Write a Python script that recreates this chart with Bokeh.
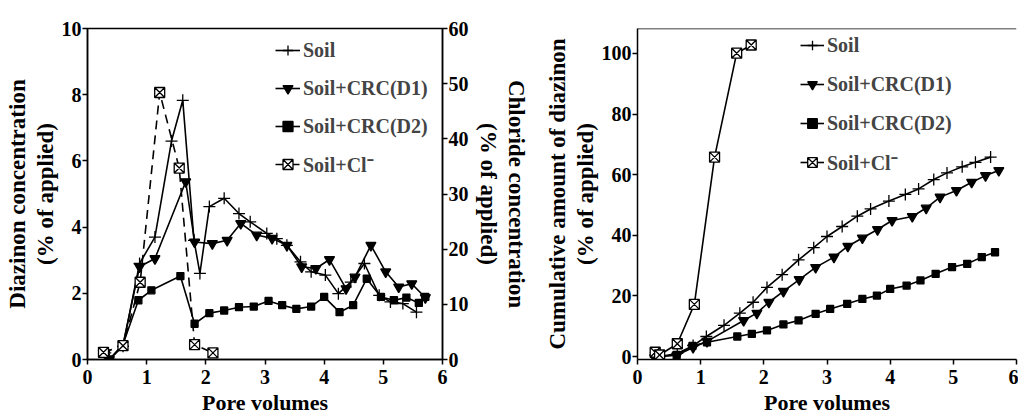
from bokeh.plotting import figure
from bokeh.models import Range1d, LinearAxis, Legend, LegendItem, Title, Span
from bokeh.layouts import row
from bokeh.embed import file_html
from bokeh.resources import INLINE

# ---------------- data: left panel (concentration) ----------------
soil_x = [0.30, 0.37, 0.60, 0.88, 1.14, 1.42, 1.61, 1.80, 1.90, 2.06, 2.31, 2.56, 2.75,
          3.03, 3.20, 3.37, 3.60, 3.78, 4.02, 4.24, 4.45, 4.68, 4.93, 5.12, 5.33, 5.56]
soil_y = [0.20, 0.00, 0.40, 2.90, 3.70, 6.60, 7.83, 3.60, 2.60, 4.62, 4.87, 4.41, 4.16,
          3.81, 3.65, 3.45, 2.95, 2.65, 2.55, 1.99, 2.34, 2.90, 1.94, 1.74, 1.69, 1.43]

d1_x = [0.30, 0.37, 0.60, 0.88, 1.14, 1.66, 1.81, 2.11, 2.36, 2.59, 2.86, 3.12, 3.37,
        3.62, 3.86, 4.09, 4.37, 4.52, 4.79, 5.04, 5.26, 5.48, 5.71]
d1_y = [0.20, 0.00, 0.45, 2.80, 3.05, 5.37, 3.55, 3.50, 3.60, 4.11, 3.76, 3.66, 3.45,
        2.80, 2.75, 3.02, 2.14, 2.49, 3.45, 2.65, 2.19, 2.29, 1.87]

d2_x = [0.30, 0.37, 0.60, 0.86, 1.08, 1.57, 1.81, 2.06, 2.31, 2.56, 2.81, 3.06, 3.29,
        3.53, 3.78, 4.00, 4.26, 4.49, 4.72, 4.96, 5.18, 5.39, 5.60, 5.71]
d2_y = [0.20, 0.00, 0.45, 1.79, 2.09, 2.52, 1.08, 1.40, 1.48, 1.58, 1.60, 1.77, 1.64,
        1.53, 1.60, 1.89, 1.43, 1.64, 2.44, 1.89, 1.79, 1.87, 1.71, 1.89]

cl_x = [0.27, 0.60, 0.89, 1.22, 1.55, 1.81, 2.12]
cl_y = [1.3, 2.5, 14.0, 48.4, 34.7, 2.7, 1.2]          # chloride, right axis

# ---------------- data: right panel (cumulative) ----------------
cs_x = [0.28, 0.35, 0.63, 0.88, 1.09, 1.37, 1.62, 1.83, 2.05, 2.29, 2.55, 2.79, 3.00,
        3.24, 3.48, 3.69, 3.98, 4.24, 4.45, 4.69, 4.90, 5.14, 5.35, 5.59]
cs_y = [0.5, 0.0, 1.0, 3.6, 6.6, 10.3, 14.3, 17.9, 22.8, 27.0, 31.9, 35.9, 39.6,
        42.9, 46.3, 48.7, 51.3, 53.5, 55.3, 58.4, 60.6, 62.6, 64.1, 65.8]

cd1_x = [0.28, 0.35, 0.63, 0.88, 1.10, 1.68, 1.89, 2.08, 2.31, 2.56, 2.82, 3.11, 3.33,
         3.56, 3.80, 4.03, 4.35, 4.57, 4.79, 5.05, 5.29, 5.51, 5.72]
cd1_y = [0.5, 0.0, 0.5, 3.0, 5.0, 11.9, 14.3, 17.9, 21.5, 25.4, 29.4, 32.8, 36.4,
         39.1, 41.9, 44.9, 46.2, 49.0, 52.6, 54.8, 57.5, 59.7, 61.4]

cd2_x = [0.28, 0.35, 0.62, 0.87, 1.10, 1.58, 1.81, 2.05, 2.31, 2.55, 2.82, 3.05, 3.32,
         3.56, 3.79, 4.00, 4.26, 4.48, 4.72, 4.98, 5.22, 5.45, 5.66]
cd2_y = [0.5, 0.0, 0.5, 3.5, 4.7, 6.6, 7.5, 8.6, 10.6, 11.9, 14.1, 15.7, 17.4,
         19.0, 20.1, 22.3, 23.4, 25.1, 27.3, 29.5, 30.6, 32.8, 34.4]

ccl_x = [0.28, 0.35, 0.63, 0.90, 1.22, 1.57, 1.80]
ccl_y = [1.4, 0.5, 4.2, 17.2, 65.8, 100.1, 102.8]

labels = ["Soil", "Soil+CRC(D1)", "Soil+CRC(D2)", "Soil+Cl\u207b"]
x_ticks = [0, 1, 2, 3, 4, 5, 6]
left_ticks = [0, 2, 4, 6, 8, 10]
cl_ticks = [0, 10, 20, 30, 40, 50, 60]
cum_ticks = [0, 20, 40, 60, 80, 100]

FONT = "Liberation Serif"


def style_axis(ax, size, label_size, standoff=2, label_standoff=2):
    ax.axis_line_width = 1.5
    ax.axis_line_color = "black"
    ax.major_tick_line_width = 1.5
    ax.major_tick_line_color = "black"
    ax.major_tick_out = 5
    ax.major_tick_in = 0
    ax.minor_tick_out = 0
    ax.minor_tick_in = 0
    ax.major_label_text_font = FONT
    ax.major_label_text_font_style = "bold"
    ax.major_label_text_font_size = f"{size}px"
    ax.major_label_text_color = "black"
    ax.major_label_standoff = standoff
    ax.axis_label_text_font = FONT
    ax.axis_label_text_font_style = "bold"
    ax.axis_label_text_font_size = f"{label_size}px"
    ax.axis_label_text_color = "black"
    ax.axis_label_standoff = label_standoff


def side_title(text, size=23):
    return Title(text=text, align="center", text_font=FONT, text_font_style="bold",
                 text_font_size=f"{size}px", text_color="black", standoff=0)


def add_series(p, x, y, marker, size, dash="solid", fill="black", y_range_name="default"):
    ln = p.line(x, y, line_color="black", line_width=1.6, line_dash=dash,
                y_range_name=y_range_name)
    sc = p.scatter(x, y, marker=marker, size=size, line_color="black", fill_color=fill,
                   line_width=1.3, y_range_name=y_range_name)
    return [ln, sc]


# ================= left panel =================
p1 = figure(width=530, height=420, x_range=Range1d(0, 6), y_range=Range1d(0, 10),
            output_backend="svg", toolbar_location=None, title=None,
            min_border_left=87, min_border_right=85, min_border_top=28, min_border_bottom=61)
p1.grid.visible = False
p1.outline_line_color = "black"
p1.outline_line_width = 1.5
p1.background_fill_color = "white"
p1.border_fill_color = "white"

p1.xaxis.ticker = x_ticks
p1.yaxis.ticker = left_ticks
p1.xaxis.axis_label = "Pore volumes"
p1.yaxis.axis_label = "(% of applied)"
style_axis(p1.xaxis[0], 20, 22, standoff=5, label_standoff=3)
style_axis(p1.yaxis[0], 20, 23, standoff=1, label_standoff=1)
p1.add_layout(side_title("Diazinon concentration"), "left")

p1.extra_y_ranges = {"cl": Range1d(0, 60)}
ax_r = LinearAxis(y_range_name="cl", ticker=cl_ticks, axis_label="(% of applied)")
style_axis(ax_r, 20, 23, standoff=1, label_standoff=4)
p1.add_layout(ax_r, "right")
p1.add_layout(side_title("Chloride concentration"), "right")

r_soil = add_series(p1, soil_x, soil_y, "cross", 12)
r_d1 = add_series(p1, d1_x, d1_y, "inverted_triangle", 10)
r_d2 = add_series(p1, d2_x, d2_y, "square", 7)
r_cl = add_series(p1, cl_x, cl_y, "square_x", 10, dash="9 6", fill="white", y_range_name="cl")

leg1 = Legend(items=[LegendItem(label=labels[0], renderers=r_soil),
                     LegendItem(label=labels[1], renderers=r_d1),
                     LegendItem(label=labels[2], renderers=r_d2),
                     LegendItem(label=labels[3], renderers=r_cl)],
              location=(188, 180), label_text_font=FONT, label_text_font_style="bold",
              label_text_font_size="20px", label_height=30, glyph_height=30, glyph_width=25,
              spacing=8, padding=0, margin=0, border_line_alpha=0, background_fill_alpha=0,
              label_standoff=3)
p1.add_layout(leg1)

# ================= right panel =================
# frames of the two panels are aligned by the row layout; the range is chosen so that
# 0 and 100 fall where the reference draws them
p2 = figure(width=488, height=420, x_range=Range1d(0, 6), y_range=Range1d(-0.99, 108.25),
            output_backend="svg", toolbar_location=None, title=None,
            min_border_left=107, min_border_right=2, min_border_top=28, min_border_bottom=61)
p2.grid.visible = False
p2.outline_line_color = None
p2.background_fill_color = "white"
p2.border_fill_color = "white"
p2.add_layout(Span(location=108.25, dimension="width", line_color="black", line_width=1.5))

p2.xaxis.ticker = x_ticks
p2.yaxis.ticker = cum_ticks
p2.xaxis.axis_label = "Pore volumes"
p2.yaxis.axis_label = "(% of applied)"
style_axis(p2.xaxis[0], 20, 22, standoff=5, label_standoff=3)
style_axis(p2.yaxis[0], 20, 23, standoff=1, label_standoff=1)
p2.add_layout(side_title("Cumulative amount of diazinon"), "left")

q_soil = add_series(p2, cs_x, cs_y, "cross", 12)
q_d1 = add_series(p2, cd1_x, cd1_y, "inverted_triangle", 10)
q_d2 = add_series(p2, cd2_x, cd2_y, "square", 7)
q_cl = add_series(p2, ccl_x, ccl_y, "square_x", 10, fill="white")

leg2 = Legend(items=[LegendItem(label=labels[0], renderers=q_soil),
                     LegendItem(label=labels[1], renderers=q_d1),
                     LegendItem(label=labels[2], renderers=q_d2),
                     LegendItem(label=labels[3], renderers=q_cl)],
              location=(163, 182), label_text_font=FONT, label_text_font_style="bold",
              label_text_font_size="20px", label_height=30, glyph_height=30, glyph_width=24,
              spacing=9, padding=0, margin=0, border_line_alpha=0, background_fill_alpha=0,
              label_standoff=3)
p2.add_layout(leg2)

layout = row(p1, p2)
open("out.html", "w").write(file_html(layout, INLINE))
